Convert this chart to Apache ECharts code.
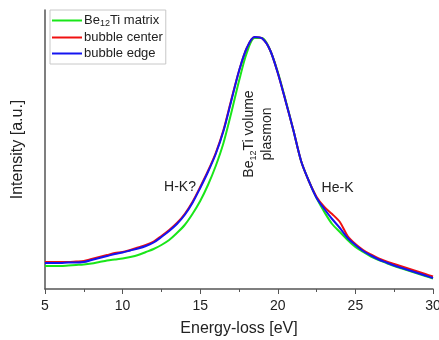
<!DOCTYPE html>
<html>
<head>
<meta charset="utf-8">
<script src="https://cdn.jsdelivr.net/npm/echarts@6/dist/echarts.min.js"></script>
<style>
  html, body { margin: 0; padding: 0; background: #fff; }
  #chart { width: 439px; height: 340px; }
</style>
</head>
<body>
<div id="chart"></div>
<script>
// energy-loss axis, eV
const energy = [5, 5.5, 6, 6.5, 7, 7.5, 8, 8.5, 9, 9.5, 10, 10.5, 11, 11.5, 12, 12.5, 13, 13.5, 14, 14.5,
  15, 15.5, 16, 16.5, 17, 17.5, 18, 18.5, 19, 19.5, 20, 20.5, 21, 21.5, 22, 22.5, 23, 23.5, 24, 24.5,
  25, 25.5, 26, 26.5, 27, 27.5, 28, 28.5, 29, 29.5, 30];

// intensities (arbitrary units)
const matrix = [23, 23, 23, 23.5, 24, 24.5, 25.5, 27, 28.5, 29.5, 30.5, 32, 34, 37, 40, 44, 49, 56, 64, 75,
  88, 104, 123, 146, 176, 208, 236, 251, 251, 239, 217, 189, 159, 128, 108, 91, 77, 65, 57, 49,
  42, 37, 32.5, 29, 26, 23, 20.5, 18, 15.5, 13, 10.5];
const center = [27, 27, 27, 27, 27.5, 28, 30, 32, 34, 36, 37, 39, 41.5, 44, 47.5, 53, 59, 66, 75, 87,
  102, 118, 136, 159, 189, 218, 241, 252, 250.5, 239, 216, 188, 159, 128, 108, 92, 82, 75, 67, 53,
  45, 39, 34.5, 30.5, 27.5, 25, 22.5, 20, 17.5, 15, 12.5];
const edge = [26, 26, 26, 26.5, 26.5, 27, 29, 31, 33, 35, 36.5, 38.5, 40.5, 43, 46.5, 52, 58, 65, 74, 86,
  101, 117, 135, 158, 188, 218, 241, 252, 250.5, 239, 216, 188, 159, 128, 108, 91, 80, 70, 61, 51,
  44, 38, 33.5, 29.5, 26.5, 23.5, 21, 18.5, 16, 13.5, 11];

const seriesNames = ['Be12Ti matrix', 'bubble center', 'bubble edge'];
const seriesColors = ['#19e619', '#f01010', '#1414f0'];

// annotation anchors [energy, intensity]
const notes = [
  { text: 'H-K?', at: [13.7, 102], rot: 0 },
  { text: 'He-K', at: [23.85, 101], rot: 0 },
  { text: 'Be{sub|12}Ti volume\nplasmon', at: [18.75, 155], rot: Math.PI / 2 }
];

const font = 'Liberation Sans, Arial, sans-serif';
const chart = echarts.init(document.getElementById('chart'));

function pairs(ys) {
  return energy.map((x, i) => [x, ys[i]]);
}

const option = {
  animation: false,
  textStyle: { fontFamily: font },
  grid: { left: 45, right: 6, top: 10, bottom: 51, outerBoundsMode: 'none' },
  legend: {
    left: 50,
    top: 10,
    orient: 'vertical',
    itemGap: 3,
    itemWidth: 30,
    itemHeight: 2,
    icon: 'rect',
    padding: [4, 3, 4, 2],
    backgroundColor: '#fff',
    borderColor: '#c8c8c8',
    borderWidth: 1,
    data: seriesNames,
    formatter: function (name) {
      return name === 'Be12Ti matrix' ? 'Be{sub|12}Ti matrix' : name;
    },
    textStyle: {
      fontSize: 13,
      color: '#222',
      padding: [0, 0, 0, -3],
      rich: {
        sub: { fontSize: 9, verticalAlign: 'bottom', padding: [6, 0, 0, 0], color: '#222' }
      }
    }
  },
  xAxis: {
    type: 'value',
    min: 5,
    max: 30,
    interval: 5,
    name: 'Energy-loss [eV]',
    nameLocation: 'middle',
    nameGap: 32,
    nameTextStyle: { fontSize: 16, color: '#222' },
    axisLine: { lineStyle: { color: '#555', width: 1.5 } },
    axisTick: { length: 5, lineStyle: { color: '#555' } },
    minorTick: { show: true, splitNumber: 2, length: 3, lineStyle: { color: '#555' } },
    axisLabel: { fontSize: 14, color: '#222', margin: 10 },
    splitLine: { show: false }
  },
  yAxis: {
    type: 'value',
    min: 0,
    max: 279,
    name: 'Intensity [a.u.]',
    nameLocation: 'middle',
    nameGap: 19,
    nameTextStyle: { fontSize: 16, color: '#222' },
    axisLine: { show: true, lineStyle: { color: '#555', width: 1.5 } },
    axisTick: { show: false },
    axisLabel: { show: false },
    splitLine: { show: false }
  },
  series: [matrix, center, edge].map((ys, i) => ({
    name: seriesNames[i],
    type: 'line',
    data: pairs(ys),
    smooth: 0.3,
    showSymbol: false,
    color: seriesColors[i],
    lineStyle: { width: 2, color: seriesColors[i] }
  }))
};

chart.setOption(option);

chart.setOption({
  graphic: notes.map(n => {
    const p = chart.convertToPixel({ gridIndex: 0 }, n.at);
    return {
      type: 'text',
      x: p[0],
      y: p[1],
      rotation: n.rot,
      style: {
        text: n.text,
        font: '14px ' + font,
        fill: '#222',
        align: 'center',
        verticalAlign: 'middle',
        lineHeight: 18,
        rich: {
          sub: { fontSize: 9, verticalAlign: 'bottom', padding: [6, 0, 0, 0], fill: '#222' }
        }
      }
    };
  })
});
</script>
</body>
</html>
